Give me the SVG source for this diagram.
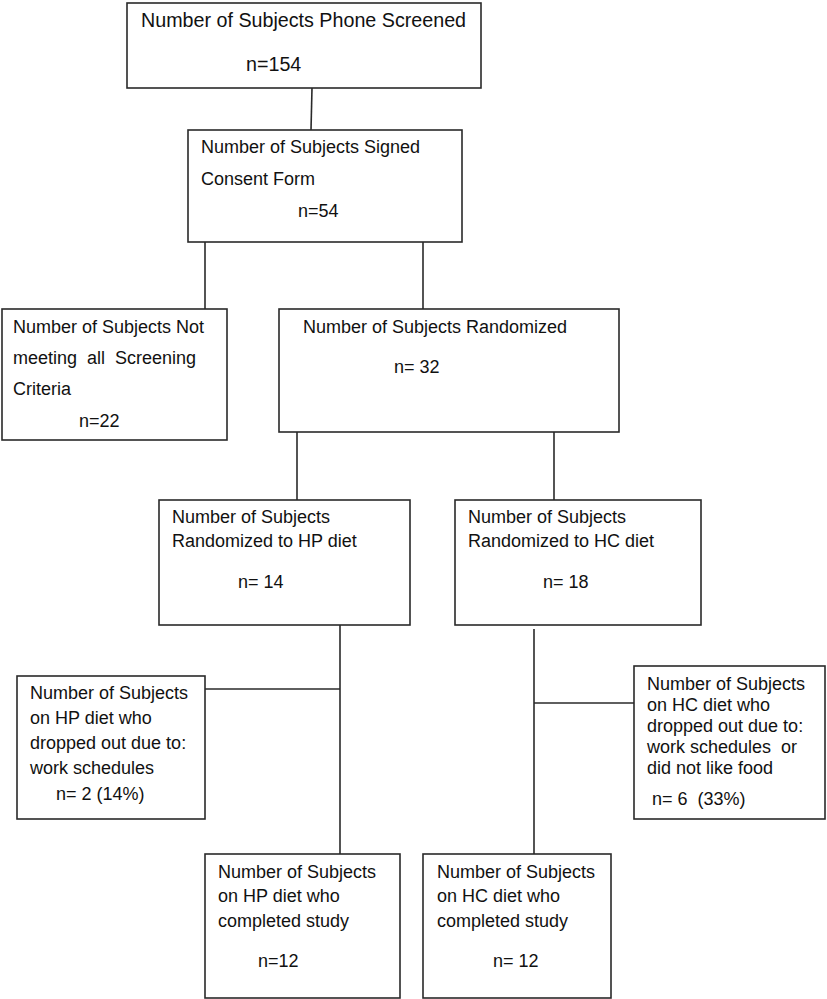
<svg xmlns="http://www.w3.org/2000/svg" width="827" height="999" viewBox="0 0 827 999">
<style>
rect{fill:#fff;stroke:#2a2a2a;stroke-width:1.6}
line{stroke:#2a2a2a;stroke-width:1.6}
text{font-family:"Liberation Sans",Arial,sans-serif;font-size:18px;fill:#111}
.big{font-size:19.7px}
</style>
<rect x="0" y="0" width="827" height="999" style="stroke:none"/>
<g id="connectors">
<line x1="312" y1="88" x2="311" y2="130"/>
<line x1="205" y1="242" x2="205" y2="309"/>
<line x1="423" y1="242" x2="423" y2="309"/>
<line x1="297" y1="432" x2="297" y2="500"/>
<line x1="554" y1="432" x2="554" y2="500"/>
<line x1="340" y1="625" x2="340" y2="854"/>
<line x1="205" y1="689" x2="340" y2="689"/>
<line x1="534" y1="629" x2="534" y2="854"/>
<line x1="534" y1="703" x2="634" y2="703"/>
</g>
<g id="screened">
<rect x="127" y="3" width="354" height="85"/>
<text class="big" x="141" y="27">Number of Subjects Phone Screened</text>
<text class="big" x="246" y="71">n=154</text>
</g>
<g id="consent">
<rect x="188" y="130" width="274" height="112"/>
<text x="201" y="153">Number of Subjects Signed</text>
<text x="201" y="185">Consent Form</text>
<text x="298" y="217">n=54</text>
</g>
<g id="notmeeting">
<rect x="2" y="309" width="225" height="131"/>
<text x="13" y="333">Number of Subjects Not</text>
<text x="13" y="364" xml:space="preserve">meeting  all  Screening</text>
<text x="13" y="395">Criteria</text>
<text x="79" y="427">n=22</text>
</g>
<g id="randomized">
<rect x="279" y="309" width="340" height="123"/>
<text x="303" y="333">Number of Subjects Randomized</text>
<text x="394" y="373">n= 32</text>
</g>
<g id="hp">
<rect x="159" y="500" width="251" height="125"/>
<text x="172" y="523">Number of Subjects</text>
<text x="172" y="547">Randomized to HP diet</text>
<text x="238" y="588">n= 14</text>
</g>
<g id="hc">
<rect x="455" y="500" width="246" height="125"/>
<text x="468" y="523">Number of Subjects</text>
<text x="468" y="547">Randomized to HC diet</text>
<text x="543" y="588">n= 18</text>
</g>
<g id="hpdrop">
<rect x="17" y="676" width="188" height="143"/>
<text x="30" y="699">Number of Subjects</text>
<text x="30" y="724">on HP diet who</text>
<text x="30" y="749">dropped out due to:</text>
<text x="30" y="774">work schedules</text>
<text x="56" y="800">n= 2 (14%)</text>
</g>
<g id="hcdrop">
<rect x="634" y="666" width="191" height="153"/>
<text x="647" y="690">Number of Subjects</text>
<text x="647" y="711">on HC diet who</text>
<text x="647" y="732">dropped out due to:</text>
<text x="647" y="753" xml:space="preserve">work schedules  or</text>
<text x="647" y="774">did not like food</text>
<text x="652" y="805" xml:space="preserve">n= 6  (33%)</text>
</g>
<g id="hpdone">
<rect x="205" y="854" width="195" height="144"/>
<text x="218" y="878">Number of Subjects</text>
<text x="218" y="902">on HP diet who</text>
<text x="218" y="927">completed study</text>
<text x="258" y="967">n=12</text>
</g>
<g id="hcdone">
<rect x="423" y="854" width="188" height="144"/>
<text x="437" y="878">Number of Subjects</text>
<text x="437" y="902">on HC diet who</text>
<text x="437" y="927">completed study</text>
<text x="493" y="967">n= 12</text>
</g>
</svg>
